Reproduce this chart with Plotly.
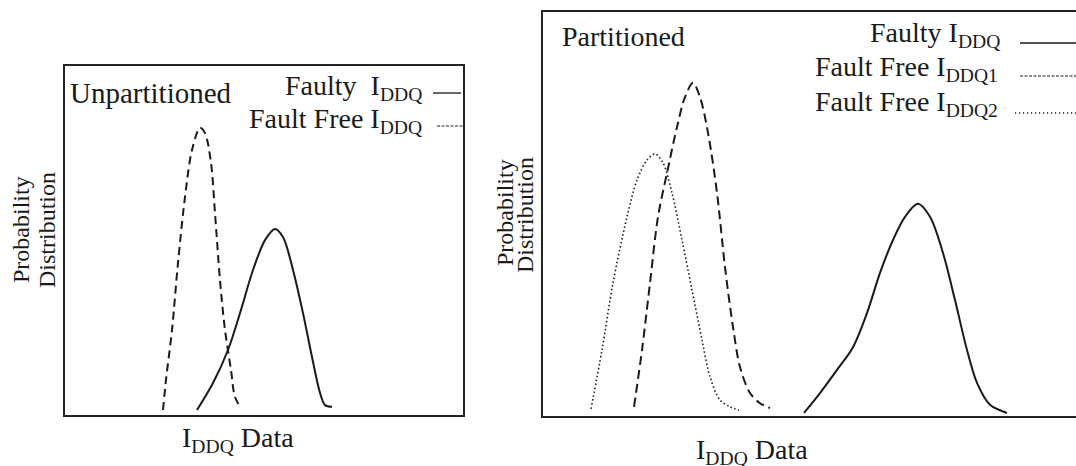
import plotly.graph_objects as go

W, H = 1076, 466

# ---------------- data ----------------
# Left panel: Unpartitioned (x: IDDQ data, arbitrary units 0-100; y: probability, 0-100)
unpart_free_x = [24.75, 25.5, 27.0, 28.5, 30.25, 32.0, 34.0, 35.25, 36.75, 37.75, 39.0, 40.25, 41.75, 42.75, 44.25]
unpart_free_y = [1.7, 10.3, 24.5, 43.6, 62.4, 75.8, 82.1, 80.6, 72.1, 57.8, 38.7, 24.5, 13.1, 5.4, 2.3]
unpart_faulty_x = [33.25, 37.25, 41.0, 44.0, 47.25, 50.25, 52.75, 54.75, 57.25, 59.75, 62.0, 64.0, 65.25, 67.0]
unpart_faulty_y = [1.7, 9.4, 18.8, 29.3, 41.6, 50.1, 53.3, 51.0, 41.6, 29.3, 16.8, 6.6, 3.1, 2.6]

# Right panel: Partitioned
part_free2_x = [12.25, 15.0, 17.75, 21.25, 23.75, 26.25, 28.25, 30.25, 32.5, 35.0, 37.5, 40.0, 42.0, 44.5, 47.0, 49.25]
part_free2_y = [2.0, 16.5, 33.0, 49.3, 58.4, 63.3, 64.8, 62.6, 55.2, 43.6, 31.3, 19.0, 9.9, 4.2, 2.5, 1.7]
part_free1_x = [23.0, 25.0, 27.0, 29.0, 31.25, 33.75, 35.75, 37.75, 39.5, 41.5, 43.75, 45.75, 47.75, 49.5, 52.0, 54.5, 57.0]
part_free1_y = [2.5, 16.5, 33.0, 49.3, 60.1, 71.4, 78.8, 82.3, 78.8, 70.0, 55.2, 36.9, 22.2, 12.3, 5.9, 3.4, 2.2]
part_faulty_x = [65.5, 69.5, 73.75, 77.75, 81.25, 84.5, 87.75, 90.75, 94.0, 97.0, 100.25, 103.25, 106.25, 108.75, 112.0, 116.25]
part_faulty_y = [1.0, 5.9, 11.6, 17.2, 25.6, 35.5, 43.6, 49.3, 52.5, 49.3, 40.4, 28.8, 16.5, 8.4, 3.0, 1.0]

# text
left_title = "Unpartitioned"
right_title = "Partitioned"
left_legend = ["Faulty&nbsp;&nbsp;I<sub>DDQ</sub>", "Fault Free I<sub>DDQ</sub>"]
right_legend = ["Faulty I<sub>DDQ</sub>", "Fault Free I<sub>DDQ1</sub>", "Fault Free I<sub>DDQ2</sub>"]
x_title = "I<sub>DDQ</sub> Data"
y_title_lines = ["Probability", "Distribution"]

# ---------------- figure ----------------
FONT = "Liberation Serif, Times New Roman, serif"
INK = "#1a1a1a"

def px(x):
    return x / W

def py(y):
    return 1 - y / H

fig = go.Figure()

def add_curve(x, y, xa, ya, dash, width):
    fig.add_trace(go.Scatter(x=x, y=y, xaxis=xa, yaxis=ya, mode="lines",
                             line=dict(color=INK, width=width, dash=dash, shape="spline", smoothing=0.9),
                             hoverinfo="skip", showlegend=False))

add_curve(unpart_free_x, unpart_free_y, "x", "y", "8px,5px", 2)
add_curve(unpart_faulty_x, unpart_faulty_y, "x", "y", "solid", 2)
add_curve(part_free2_x, part_free2_y, "x2", "y2", "1.5px,2.5px", 1.6)
add_curve(part_free1_x, part_free1_y, "x2", "y2", "9px,5px", 2)
add_curve(part_faulty_x, part_faulty_y, "x2", "y2", "solid", 2)

ax_common = dict(showgrid=False, zeroline=False, showticklabels=False, showline=False, ticks="", fixedrange=True)
fig.update_layout(
    width=W, height=H,
    margin=dict(l=0, r=0, t=0, b=0),
    paper_bgcolor="white", plot_bgcolor="white",
    xaxis=dict(domain=[px(64), px(464)], range=[0, 100], **ax_common),
    yaxis=dict(domain=[py(416), py(65)], range=[0, 100], **ax_common),
    xaxis2=dict(domain=[px(542), 1.0], range=[0, 133.5], anchor="y2", **ax_common),
    yaxis2=dict(domain=[py(417), py(11)], range=[0, 100], anchor="x2", **ax_common),
    showlegend=False,
    hovermode=False,
)

shapes = []
# panel frames
shapes.append(dict(type="rect", xref="paper", yref="paper", x0=px(64), x1=px(464), y0=py(416), y1=py(65),
                   line=dict(color="#222", width=2)))
shapes.append(dict(type="rect", xref="paper", yref="paper", x0=px(542), x1=px(1090), y0=py(417), y1=py(11),
                   line=dict(color="#222", width=2)))

def seg(x0, x1, y, dash, width):
    shapes.append(dict(type="line", xref="paper", yref="paper", x0=px(x0), x1=px(x1), y0=py(y), y1=py(y),
                       line=dict(color=INK, width=width, dash=dash)))

# legend samples
seg(433, 461, 93, "solid", 1.3)
seg(437, 463, 126, "3px,1.5px", 1.0)
seg(1020, 1076, 43, "solid", 1.3)
seg(1020, 1076, 76, "3px,1.5px", 1.0)
seg(1015, 1076, 113, "1.2px,2.8px", 1.3)
fig.update_layout(shapes=shapes)

annots = []

def txt(s, x, y, size, xanchor="left", angle=0):
    annots.append(dict(text=s, x=px(x), y=py(y), xref="paper", yref="paper", showarrow=False,
                       xanchor=xanchor, yanchor="middle", textangle=angle,
                       font=dict(family=FONT, size=size, color=INK)))

txt(left_title, 68, 93, 29)
txt(left_legend[0], 424, 87, 28, "right")
txt(left_legend[1], 424, 120, 28, "right")
txt(right_title, 560, 36, 28)
txt(right_legend[0], 1002, 35, 28, "right")
txt(right_legend[1], 1000, 68, 28, "right")
txt(right_legend[2], 1000, 103, 28, "right")
txt(x_title, 238, 439, 28, "center")
txt(x_title, 752, 451, 28, "center")
txt(y_title_lines[0], 21, 230, 24, "center", -90)
txt(y_title_lines[1], 47, 230, 24, "center", -90)
txt(y_title_lines[0], 505, 213, 24, "center", -90)
txt(y_title_lines[1], 525, 215, 24, "center", -90)
fig.update_layout(annotations=annots)

fig.write_html("out.html", config={"displayModeBar": False},
               post_script="document.body.style.margin='0';document.body.style.overflow='hidden';")
